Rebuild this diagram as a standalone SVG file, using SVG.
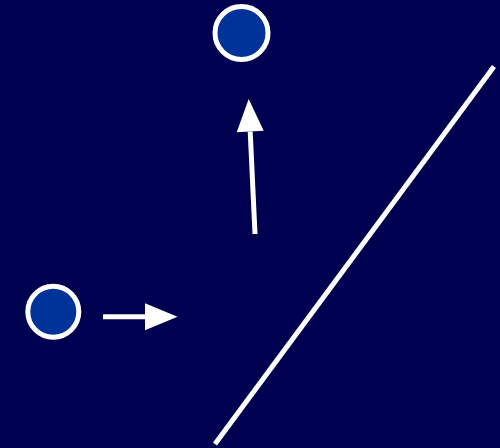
<svg xmlns="http://www.w3.org/2000/svg" width="500" height="448" viewBox="0 0 500 448">
<defs>
<style>
.node{fill:#003399;stroke:#ffffff;stroke-width:5}
.conn{stroke:#ffffff;stroke-width:5;fill:none}
</style>
<marker id="ah" markerUnits="userSpaceOnUse" markerWidth="34" markerHeight="30" refX="0" refY="14" orient="auto" overflow="visible">
<path d="M0,0.5 L32.5,14 L0,27.5 z" fill="#ffffff"/>
</marker>
</defs>
<rect width="500" height="448" fill="#000050"/>
<g id="node-top"><circle class="node" cx="241.5" cy="33" r="26.5"/></g>
<g id="node-left"><circle class="node" cx="53.3" cy="311.7" r="25.5"/></g>
<g id="connectors">
<line class="conn" x1="103" y1="316.8" x2="145" y2="316.8" marker-end="url(#ah)"/>
<line class="conn" x1="255" y1="234" x2="250.2" y2="131.5" marker-end="url(#ah)"/>
<line class="conn" x1="494" y1="66.5" x2="215" y2="444"/>
</g>
</svg>
